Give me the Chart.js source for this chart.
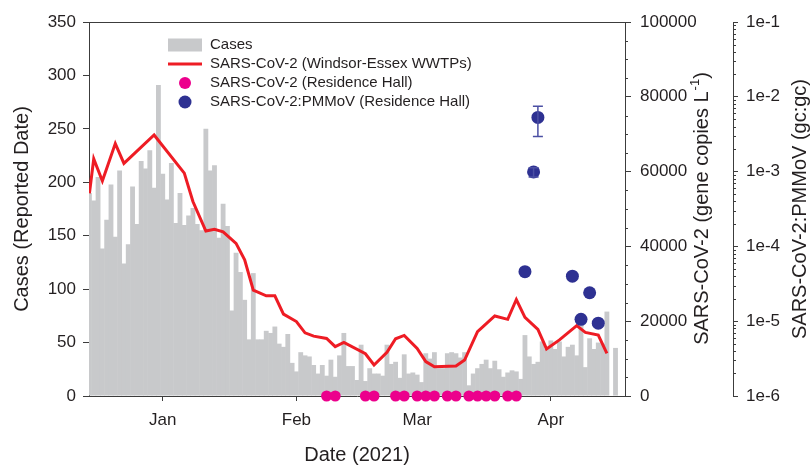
<!DOCTYPE html>
<html>
<head>
<meta charset="utf-8">
<script src="https://cdn.jsdelivr.net/npm/chart.js@4.4.1/dist/chart.umd.min.js"></script>
<style>
  html, body { margin: 0; padding: 0; background: #fff; }
</style>
</head>
<body>
<canvas id="wastewaterChart" width="812" height="465"></canvas>
<script>
// x values are days counted from 1 Jan 2021 (day 0)
var caseStartDay = -17;
var cases = [
  190, 183, 205, 138, 165, 198, 149, 211, 124, 142, 196, 161, 220, 213, 230, 195, 291,
  208, 184, 218, 162, 190, 160, 169, 176, 161, 155, 250, 211, 216, 148, 180, 159, 80,
  134, 116, 90, 53, 115, 53, 53, 61, 59, 65, 49, 46, 58, 31,
  23, 41, 38, 37, 29, 21, 29, 19, 34, 18, 38, 59, 28, 28, 15, 48, 14, 26, 21, 21, 19,
  48, 30, 32, 17, 39, 21, 22, 20,
  13, 40, 35, 41, 26, 26, 40, 41, 40, 36, 41, 10, 21, 26, 30, 34, 26, 33, 25, 18, 22,
  24, 23, 16, 57, 37, 30, 32, 51, 44,
  52, 44, 51, 37, 46, 48, 38, 67, 27, 54, 44, 50, 49, 79, 0, 45
];

var wwDays = [-17, -16, -14, -11, -9, -2, 5, 7, 10, 12, 14, 17, 19, 21, 24, 26, 28, 31, 33, 35, 38, 40, 42,
  47, 49, 52, 54, 56, 59, 61, 63, 68, 70, 73, 77, 80, 82, 84, 87, 89, 92, 96, 98, 101, 103];
var wwConc = [54200, 63400, 57500, 67500, 62200, 69800, 59600, 52000, 44100, 44600, 43900, 40800, 36400,
  28300, 26800, 26800, 21900, 19900, 16900, 16000, 15400, 13200, 14300,
  11300, 8300, 11700, 15300, 16200, 12700, 9200, 7800, 8000, 9600, 17200, 21400, 20500, 25800,
  21000, 17800, 12600, 15000, 18800, 17000, 16300, 11400];

var hallDays = [38, 40, 47, 49, 54, 56, 59, 61, 63, 66, 68, 71, 73, 75, 77, 80, 82];
var hallConc = [0, 0, 0, 0, 0, 0, 0, 0, 0, 0, 0, 0, 0, 0, 0, 0, 0];

var pmmovDays = [84, 86, 87, 95, 97, 99, 101];
var pmmovRatio = [4.6e-5, 9.9e-4, 5.3e-3, 4.0e-5, 1.06e-5, 2.4e-5, 9.4e-6];
var pmmovLow = [null, 8.5e-4, 2.95e-3, null, null, null, null];
var pmmovHigh = [null, 1.13e-3, 7.5e-3, null, null, null, null];

var monthTicks = [0, 31, 59, 90];
var monthLabels = ['Jan', 'Feb', 'Mar', 'Apr'];
var wwTicks = [0, 20000, 40000, 60000, 80000, 100000];
var ratioTicks = [1e-6, 1e-5, 1e-4, 1e-3, 1e-2, 1e-1];

var textColor = '#231f20';
var axisColor = '#3c3c3c';
var barGray = '#c8c9cb';
var lineRed = '#ee1c24';
var hallPink = '#ec008c';
var ratioBlue = '#2e3192';

Chart.defaults.font.family = '"Liberation Sans", Arial, sans-serif';
Chart.defaults.color = textColor;

var caseData = cases.map(function (v, i) { return { x: caseStartDay + i, y: v }; });
var wwData = wwDays.map(function (d, i) { return { x: d, y: wwConc[i] }; });
var hallData = hallDays.map(function (d, i) { return { x: d, y: hallConc[i] }; });
var ratioData = pmmovDays.map(function (d, i) { return { x: d, y: pmmovRatio[i] }; });

function fixWidth(w) {
  return function (scale) { scale.width = w; };
}

// error bars on the PMMoV points
var errorBars = {
  id: 'errorBars',
  afterDatasetsDraw(chart) {
    const { ctx, scales: { x, yRatio } } = chart;
    ctx.save();
    ctx.strokeStyle = '#4b4fa3';
    ctx.lineWidth = 1.5;
    pmmovDays.forEach(function (d, i) {
      if (pmmovLow[i] == null) return;
      const px = x.getPixelForValue(d);
      const top = yRatio.getPixelForValue(pmmovHigh[i]);
      const bot = yRatio.getPixelForValue(pmmovLow[i]);
      ctx.beginPath();
      ctx.moveTo(px, top); ctx.lineTo(px, bot);
      ctx.moveTo(px - 5, top); ctx.lineTo(px + 5, top);
      ctx.moveTo(px - 5, bot); ctx.lineTo(px + 5, bot);
      ctx.stroke();
    });
    ctx.restore();
  }
};

// minor ticks, top frame line and the two right-hand titles
var axisExtras = {
  id: 'axisExtras',
  afterDraw(chart) {
    const { ctx, chartArea: { top, bottom, left, right }, scales: { yWW, yRatio } } = chart;
    ctx.save();
    ctx.strokeStyle = axisColor;
    ctx.lineWidth = 1;
    ctx.beginPath();
    ctx.moveTo(left, top + 0.5); ctx.lineTo(right, top + 0.5);
    for (let v = 5000; v < 100000; v += 5000) {
      if (v % 20000 === 0) continue;
      const py = Math.round(yWW.getPixelForValue(v)) + 0.5;
      ctx.moveTo(yWW.left, py); ctx.lineTo(yWW.left + 3, py);
    }
    for (let e = -6; e < -1; e++) {
      for (let m = 2; m < 10; m++) {
        const py = Math.round(yRatio.getPixelForValue(m * Math.pow(10, e))) + 0.5;
        ctx.moveTo(yRatio.left, py); ctx.lineTo(yRatio.left + 3, py);
      }
    }
    ctx.stroke();

    const mid = (top + bottom) / 2;
    ctx.fillStyle = textColor;
    ctx.textBaseline = 'middle';

    // SARS-CoV-2 (gene copies L-1)
    ctx.save();
    ctx.translate(yWW.right - 31, mid);
    ctx.rotate(-Math.PI / 2);
    const partA = 'SARS-CoV-2 (gene copies L';
    const partSup = '-1';
    const partB = ')';
    ctx.font = '20px "Liberation Sans", Arial, sans-serif';
    const wA = ctx.measureText(partA).width;
    const wB = ctx.measureText(partB).width;
    ctx.font = '13px "Liberation Sans", Arial, sans-serif';
    const wS = ctx.measureText(partSup).width;
    let sx = -(wA + wS + wB) / 2;
    ctx.font = '20px "Liberation Sans", Arial, sans-serif';
    ctx.textAlign = 'left';
    ctx.fillText(partA, sx, 0);
    ctx.font = '13px "Liberation Sans", Arial, sans-serif';
    ctx.fillText(partSup, sx + wA + 1, -7);
    ctx.font = '20px "Liberation Sans", Arial, sans-serif';
    ctx.fillText(partB, sx + wA + wS + 1, 0);
    ctx.restore();

    // SARS-CoV-2:PMMoV (gc:gc)
    ctx.save();
    ctx.translate(yRatio.right - 12, mid);
    ctx.rotate(-Math.PI / 2);
    ctx.font = '20px "Liberation Sans", Arial, sans-serif';
    ctx.textAlign = 'center';
    ctx.fillText('SARS-CoV-2:PMMoV (gc:gc)', 0, 0);
    ctx.restore();

    ctx.restore();
  }
};

// legend inside the plot, top left
var legendBox = {
  id: 'legendBox',
  afterDraw(chart) {
    const ctx = chart.ctx;
    const x0 = 168, xText = 210, y0 = 45, rowGap = 19;
    ctx.save();
    ctx.fillStyle = barGray;
    ctx.fillRect(x0, y0 - 6.5, 34, 13);
    ctx.strokeStyle = lineRed;
    ctx.lineWidth = 3;
    ctx.beginPath();
    ctx.moveTo(x0, y0 + rowGap); ctx.lineTo(x0 + 34, y0 + rowGap);
    ctx.stroke();
    ctx.fillStyle = hallPink;
    ctx.beginPath();
    ctx.arc(x0 + 17, y0 + rowGap * 2, 6, 0, Math.PI * 2);
    ctx.fill();
    ctx.fillStyle = ratioBlue;
    ctx.beginPath();
    ctx.arc(x0 + 17, y0 + rowGap * 3, 6.5, 0, Math.PI * 2);
    ctx.fill();

    ctx.fillStyle = textColor;
    ctx.font = '15px "Liberation Sans", Arial, sans-serif';
    ctx.textAlign = 'left';
    ctx.textBaseline = 'middle';
    ctx.fillText('Cases', xText, y0);
    ctx.fillText('SARS-CoV-2 (Windsor-Essex WWTPs)', xText, y0 + rowGap);
    ctx.fillText('SARS-CoV-2 (Residence Hall)', xText, y0 + rowGap * 2);
    ctx.fillText('SARS-CoV-2:PMMoV (Residence Hall)', xText, y0 + rowGap * 3);
    ctx.restore();
  }
};

var config = {
  data: {
    datasets: [
      {
        type: 'scatter',
        label: 'SARS-CoV-2:PMMoV (Residence Hall)',
        data: ratioData,
        yAxisID: 'yRatio',
        backgroundColor: ratioBlue,
        borderWidth: 0,
        pointRadius: 6.5,
        clip: false,
        order: 1
      },
      {
        type: 'scatter',
        label: 'SARS-CoV-2 (Residence Hall)',
        data: hallData,
        yAxisID: 'yWW',
        backgroundColor: hallPink,
        borderWidth: 0,
        pointRadius: 5.5,
        clip: false,
        order: 2
      },
      {
        type: 'line',
        label: 'SARS-CoV-2 (Windsor-Essex WWTPs)',
        data: wwData,
        yAxisID: 'yWW',
        borderColor: lineRed,
        borderWidth: 3,
        pointRadius: 0,
        tension: 0,
        order: 3
      },
      {
        type: 'bar',
        label: 'Cases',
        data: caseData,
        yAxisID: 'yCases',
        backgroundColor: barGray,
        borderWidth: 0,
        barPercentage: 1.12,
        categoryPercentage: 1,
        order: 4
      }
    ]
  },
  options: {
    responsive: false,
    animation: false,
    layout: { padding: { top: 22, right: 0, bottom: 0, left: 0 } },
    plugins: {
      legend: { display: false },
      tooltip: { enabled: false }
    },
    scales: {
      x: {
        type: 'linear',
        offset: false,
        min: -17.1,
        max: 107.2,
        afterBuildTicks: function (scale) {
          scale.ticks = monthTicks.map(function (v) { return { value: v }; });
        },
        ticks: {
          autoSkip: false,
          maxRotation: 0,
          font: { size: 17 },
          padding: 9,
          callback: function (v) { return monthLabels[monthTicks.indexOf(v)]; }
        },
        grid: { offset: false, drawOnChartArea: false, tickLength: 5, color: axisColor },
        border: { color: axisColor },
        title: { display: true, text: 'Date (2021)', font: { size: 20 }, padding: { top: 0, bottom: -2 } },
        afterFit: function (scale) { scale.height = 69; }
      },
      yCases: {
        position: 'left',
        min: 0,
        max: 350,
        ticks: { stepSize: 50, font: { size: 17 }, padding: 7 },
        grid: { drawOnChartArea: false, tickLength: 6, color: axisColor },
        border: { color: axisColor },
        title: { display: true, text: 'Cases (Reported Date)', font: { size: 20 }, padding: { top: 10, bottom: 0 } },
        afterFit: fixWidth(89)
      },
      yWW: {
        position: 'right',
        weight: 0,
        min: 0,
        max: 100000,
        afterBuildTicks: function (scale) {
          scale.ticks = wwTicks.map(function (v) { return { value: v }; });
        },
        ticks: { autoSkip: false, font: { size: 17 }, padding: 9, callback: function (v) { return String(v); } },
        grid: { drawOnChartArea: false, tickLength: 6, color: axisColor },
        border: { color: axisColor },
        afterFit: fixWidth(108)
      },
      yRatio: {
        type: 'logarithmic',
        position: 'right',
        weight: 1,
        min: 1e-6,
        max: 1e-1,
        afterBuildTicks: function (scale) {
          scale.ticks = ratioTicks.map(function (v) { return { value: v }; });
        },
        ticks: {
          autoSkip: false,
          font: { size: 17 },
          padding: 8,
          callback: function (v) { return '1e' + Math.round(Math.log10(v)); }
        },
        grid: { drawOnChartArea: false, tickLength: 5, color: axisColor },
        border: { color: axisColor },
        afterFit: fixWidth(79)
      }
    }
  },
  plugins: [errorBars, axisExtras, legendBox]
};

var wastewaterChart = new Chart(document.getElementById('wastewaterChart'), config);
</script>
</body>
</html>
